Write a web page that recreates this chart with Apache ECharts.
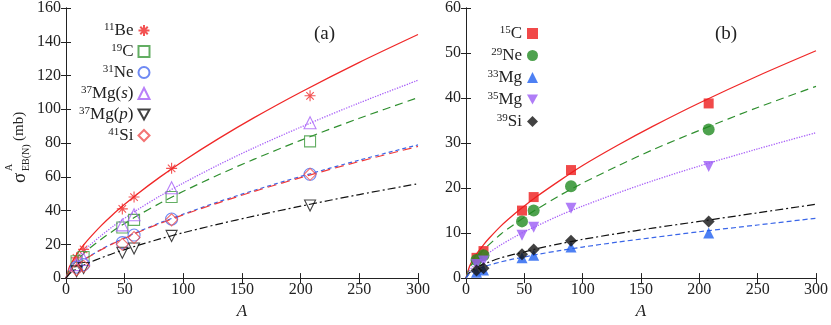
<!DOCTYPE html>
<html>
<head>
<meta charset="utf-8">
<script src="https://cdn.jsdelivr.net/npm/echarts@6/dist/echarts.min.js"></script>
<style>
  html, body { margin: 0; padding: 0; background: #fff; }
  #chart { width: 831px; height: 325px; }
</style>
</head>
<body>
<div id="chart"></div>
<script>
// x positions of the measured points (target mass number A)
const ptA = [9, 15, 48, 58, 90, 208];
const fitA = [0, 3, 6, 10, 15, 20, 30, 40, 50, 60, 80, 100, 130, 160, 200, 250, 300];

// panel (a) points
const be11 = [12, 17, 41, 48, 65, 108];
const c19 = [10, 12.5, 30, 34.5, 48, 81];
const ne31 = [6.5, 8, 21, 25.5, 35, 61.5];
const mg37s = [8, 11, 31.5, 37.5, 53.5, 92];
const mg37p = [4, 6, 15, 17.5, 25, 43];
const si41 = [5, 7, 20, 24, 34.5, 61.5];

// panel (a) curves
const fitBe11 = [0, 6.7, 10.6, 14.9, 19.6, 23.7, 31.1, 37.7, 43.7, 49.4, 59.8, 69.4, 82.6, 94.9, 110.1, 127.8, 144.3];
const fitMg37s = [0, 5.4, 8.6, 12.1, 15.9, 19.3, 25.2, 30.6, 35.5, 40.1, 48.6, 56.3, 67.1, 77.1, 89.4, 103.8, 117.2];
const fitC19 = [0, 5.0, 7.9, 11.1, 14.5, 17.6, 23.0, 27.9, 32.4, 36.6, 44.3, 51.4, 61.2, 70.3, 81.6, 94.7, 106.9];
const fitNe31 = [0, 3.7, 5.8, 8.2, 10.7, 13.0, 17.0, 20.6, 23.9, 27.0, 32.7, 37.9, 45.2, 51.9, 60.2, 69.9, 78.9];
const fitSi41 = [0, 3.6, 5.7, 8.1, 10.6, 12.8, 16.8, 20.4, 23.6, 26.7, 32.3, 37.5, 44.6, 51.3, 59.5, 69.1, 78.0];
const fitMg37p = [0, 2.6, 4.1, 5.8, 7.6, 9.2, 12.0, 14.6, 16.9, 19.1, 23.2, 26.9, 32.0, 36.7, 42.6, 49.5, 55.9];

// panel (b) points
const c15 = [4.5, 6, 15, 18, 24, 38.8];
const ne29 = [4, 5.1, 12.6, 15, 20.4, 33];
const mg33 = [1.3, 1.8, 4.5, 5.1, 6.9, 10];
const mg35 = [3, 3.8, 9.5, 11.3, 15.5, 24.8];
const si39 = [1.7, 2.2, 5.3, 6.35, 8.3, 12.6];

// panel (b) curves
const fitC15 = [0, 2.6, 4.1, 5.7, 7.4, 8.9, 11.6, 13.9, 16.0, 18.0, 21.6, 25.0, 29.5, 33.7, 38.9, 44.9, 50.5];
const fitNe29 = [0, 2.2, 3.5, 4.8, 6.3, 7.5, 9.8, 11.7, 13.5, 15.2, 18.3, 21.1, 24.9, 28.5, 32.8, 37.9, 42.6];
const fitMg35 = [0, 1.7, 2.6, 3.7, 4.7, 5.7, 7.4, 8.9, 10.3, 11.5, 13.9, 16.0, 18.9, 21.6, 24.9, 28.7, 32.3];
const fitSi39 = [0, 1.2, 1.8, 2.5, 3.1, 3.6, 4.5, 5.2, 5.8, 6.5, 7.6, 8.6, 9.9, 11.1, 12.6, 14.5, 16.4];
const fitMg33 = [0, 1.0, 1.5, 2.0, 2.5, 2.9, 3.6, 4.2, 4.7, 5.2, 6.1, 6.9, 8.0, 9.0, 10.3, 11.8, 13.3];

const legendA = ['11Be', '19C', '31Ne', '37Mg(s)', '37Mg(p)', '41Si'];
const legendB = ['15C', '29Ne', '33Mg', '35Mg', '39Si'];

const xTicks = [0, 300, 50];
const yTicksA = [0, 160, 20];
const yTicksB = [0, 60, 10];

const FONT = 'Liberation Serif';
const INK = '#222';
const asterisk = 'path://M5,0L5,10M0,5L10,5M1.6,1.6L8.4,8.4M1.6,8.4L8.4,1.6';
const downTri = 'path://M0,0L10,0L5,9Z';

function pts(ys) { return ptA.map((a, i) => [a, ys[i]]); }
function curve(ys) { return fitA.map((a, i) => [a, ys[i]]); }

// "37Mg(s)" -> rich text with superscript mass number and italic state
function legendText(name) {
  const m = name.match(/^(\d+)([A-Za-z]+)(?:\((.)\))?$/);
  let s = '{sup|' + m[1] + '}{n|' + m[2] + '}';
  if (m[3]) s += '{n|(}{i|' + m[3] + '}{n|)}';
  return s;
}

// tick labels go through rich text so the serif face is really used
const tickLabel = {
  color: INK,
  formatter: v => '{t|' + v + '}',
  rich: { t: { fontFamily: FONT, fontSize: 16, color: INK } }
};

function xAxes(grid) {
  return [
    { gridIndex: grid, type: 'value', min: xTicks[0], max: xTicks[1], interval: xTicks[2],
      name: 'A', nameLocation: 'middle', nameGap: 23,
      nameTextStyle: { fontFamily: FONT, fontStyle: 'italic', fontSize: 17, color: INK },
      axisLine: { lineStyle: { color: INK, width: 1 } },
      axisTick: { inside: true, length: 5, lineStyle: { color: INK } },
      axisLabel: Object.assign({ margin: 4 }, tickLabel),
      splitLine: { show: false } },
    { gridIndex: grid, type: 'value', position: 'top', min: xTicks[0], max: xTicks[1], interval: xTicks[2],
      axisLine: { lineStyle: { color: INK, width: 1 } },
      axisTick: { inside: true, length: 5, lineStyle: { color: INK } },
      axisLabel: { show: false }, splitLine: { show: false } }
  ];
}

function yAxes(grid, t) {
  return [
    { gridIndex: grid, type: 'value', min: t[0], max: t[1], interval: t[2],
      axisLine: { show: true, lineStyle: { color: INK, width: 1 } },
      axisTick: { show: true, inside: true, length: 5, lineStyle: { color: INK } },
      axisLabel: Object.assign({ margin: 5 }, tickLabel),
      splitLine: { show: false } },
    { gridIndex: grid, type: 'value', position: 'right', min: t[0], max: t[1], interval: t[2],
      axisLine: { show: true, lineStyle: { color: INK, width: 1 } },
      axisTick: { show: true, inside: true, length: 5, lineStyle: { color: INK } },
      axisLabel: { show: false }, splitLine: { show: false } }
  ];
}

function fitLine(name, grid, ys, color, type, width) {
  return {
    name: name, type: 'line', xAxisIndex: grid * 2, yAxisIndex: grid * 2,
    data: curve(ys), showSymbol: false, smooth: 0.3,
    lineStyle: { color: color, type: type, width: width || 1.2 },
    silent: true, z: 2
  };
}

function hollow(name, ys, symbol, size, color) {
  return {
    name: name, type: 'scatter', xAxisIndex: 0, yAxisIndex: 0,
    data: pts(ys), symbol: symbol, symbolSize: size,
    itemStyle: { color: 'none', borderColor: color, borderWidth: 1.1 }, z: 3
  };
}

function filled(name, ys, symbol, size, color) {
  return {
    name: name, type: 'scatter', xAxisIndex: 2, yAxisIndex: 2,
    data: pts(ys), symbol: symbol, symbolSize: size,
    itemStyle: { color: color }, z: 3
  };
}

const legendRich = {
  sup: { fontFamily: FONT, fontSize: 11, verticalAlign: 'top', lineHeight: 17, color: INK },
  n: { fontFamily: FONT, fontSize: 17, lineHeight: 17, color: INK },
  i: { fontFamily: FONT, fontSize: 17, fontStyle: 'italic', lineHeight: 17, color: INK }
};

const chart = echarts.init(document.getElementById('chart'), null, { renderer: 'canvas' });

const option = {
  animation: false,
  backgroundColor: '#fff',
  textStyle: { fontFamily: FONT },
  grid: [
    { left: 66, right: 413, top: 7, bottom: 44 },
    { left: 466, right: 13, top: 7, bottom: 44 }
  ],
  xAxis: xAxes(0).concat(xAxes(1)),
  yAxis: yAxes(0, yTicksA).concat(yAxes(1, yTicksB)),
  legend: [
    { data: legendA, orient: 'vertical', align: 'right', right: 679, top: 22, padding: 0,
      itemGap: 4, itemWidth: 11, itemHeight: 11, selectedMode: false,
      formatter: legendText, textStyle: { fontFamily: FONT, rich: legendRich } },
    { data: legendB, orient: 'vertical', align: 'right', right: 293, top: 25, padding: 0,
      itemGap: 5, itemWidth: 11, itemHeight: 11, selectedMode: false,
      formatter: legendText, textStyle: { fontFamily: FONT, rich: legendRich } }
  ],
  graphic: [
    { type: 'text', left: 314, top: 25, style: { text: '(a)', font: '19px "Liberation Serif"', fill: INK } },
    { type: 'text', left: 715, top: 25, style: { text: '(b)', font: '19px "Liberation Serif"', fill: INK } },
    { type: 'group', x: 20, y: 183, rotation: Math.PI / 2, children: [
      { type: 'text', x: 0, y: 0, style: { text: 'σ', font: '19px "Liberation Serif"', fill: INK, verticalAlign: 'middle' } },
      { type: 'text', x: 12, y: -11, style: { text: 'A', font: '10px "Liberation Serif"', fill: INK, verticalAlign: 'middle' } },
      { type: 'text', x: 12, y: 6, style: { text: 'EB(N)', font: '10px "Liberation Serif"', fill: INK, verticalAlign: 'middle' } },
      { type: 'text', x: 42, y: -1, style: { text: '(mb)', font: '15px "Liberation Serif"', fill: INK, verticalAlign: 'middle' } }
    ] }
  ],
  series: [
    fitLine('fit 11Be', 0, fitBe11, '#f02828', 'solid', 1.3),
    fitLine('fit 37Mg(s)', 0, fitMg37s, '#a860f8', 'dotted', 1.3),
    fitLine('fit 19C', 0, fitC19, '#2f8f2f', [8, 5], 1.2),
    fitLine('fit 31Ne', 0, fitNe31, '#3a66e8', [4, 3], 1.2),
    fitLine('fit 41Si', 0, fitSi41, '#f03a3a', [9, 5], 1.2),
    fitLine('fit 37Mg(p)', 0, fitMg37p, '#111', [8, 3, 2, 3], 1.2),

    hollow('11Be', be11, asterisk, 11, '#f02828'),
    hollow('19C', c19, 'rect', 11, '#3c9a3c'),
    hollow('31Ne', ne31, 'circle', 12, '#4a6cf0'),
    hollow('37Mg(s)', mg37s, 'triangle', 12, '#a860f8'),
    hollow('37Mg(p)', mg37p, downTri, 11, '#111'),
    hollow('41Si', si41, 'diamond', 12, '#f05050'),

    fitLine('fit 15C', 1, fitC15, '#f02828', 'solid', 1.3),
    fitLine('fit 29Ne', 1, fitNe29, '#2f8f2f', [8, 5], 1.2),
    fitLine('fit 35Mg', 1, fitMg35, '#a860f8', 'dotted', 1.3),
    fitLine('fit 39Si', 1, fitSi39, '#111', [8, 3, 2, 3], 1.2),
    fitLine('fit 33Mg', 1, fitMg33, '#3a66e8', [5, 3], 1.2),

    filled('15C', c15, 'rect', 10, '#ee1c1c'),
    filled('29Ne', ne29, 'circle', 12, '#228b22'),
    filled('33Mg', mg33, 'triangle', 11, '#2060f0'),
    filled('35Mg', mg35, downTri, 11, '#9b5cf5'),
    filled('39Si', si39, 'diamond', 12, '#111')
  ]
};

chart.setOption(option);
</script>
</body>
</html>
